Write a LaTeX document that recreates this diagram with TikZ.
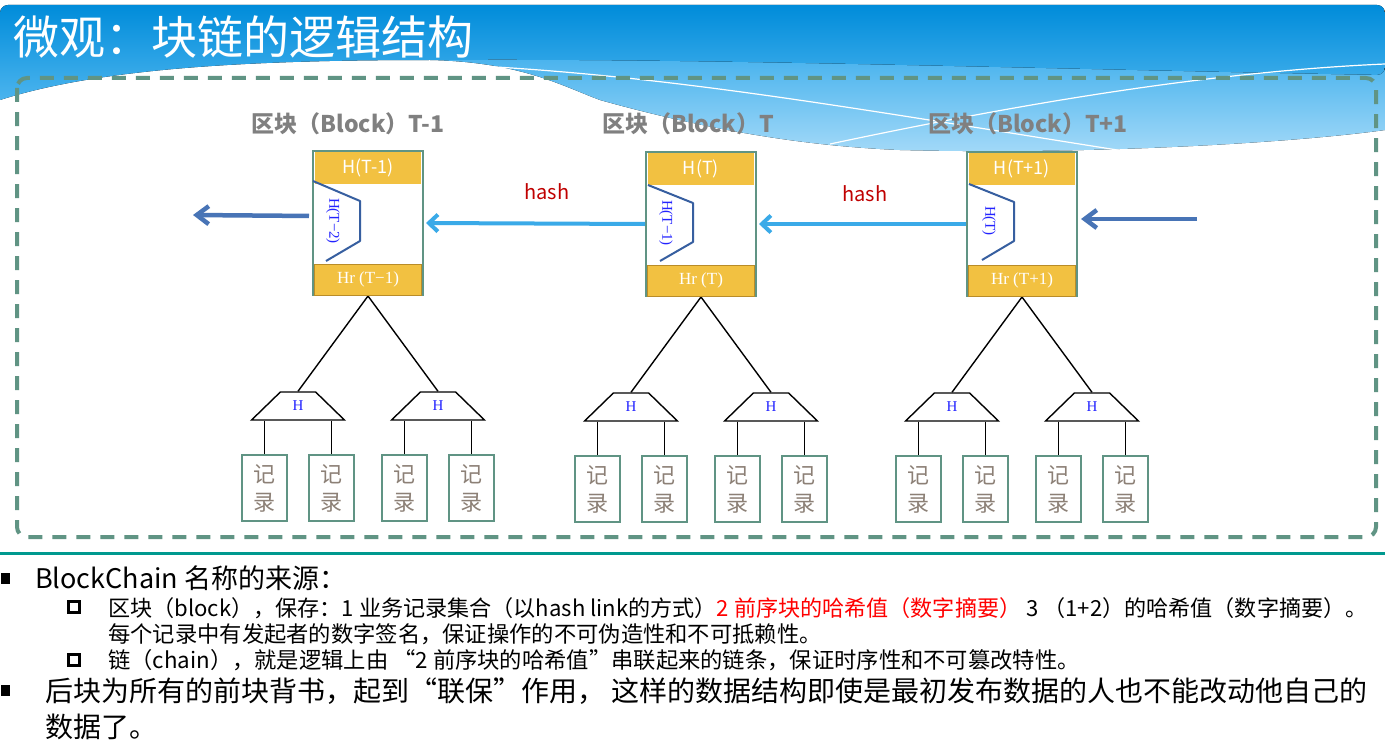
\documentclass[tikz,border=0pt]{standalone}
\usepackage{fontspec}
\setmainfont{Noto Sans CJK SC}
\newfontfamily\romfont{Liberation Serif}
\usetikzlibrary{arrows.meta,shapes.geometric,positioning}
\definecolor{frame}{RGB}{96,148,132}
\definecolor{barY}{RGB}{242,193,65}
\definecolor{barD}{RGB}{185,140,40}
\definecolor{muxB}{RGB}{55,95,160}
\definecolor{hblue}{RGB}{35,35,255}
\definecolor{arrDark}{RGB}{72,116,182}
\definecolor{arrLight}{RGB}{58,170,232}
\definecolor{hashred}{RGB}{192,0,0}
\definecolor{ttlgray}{RGB}{128,128,128}
\definecolor{recgray}{RGB}{140,128,118}
\definecolor{tealline}{RGB}{0,153,143}
\definecolor{skyTop}{RGB}{0,140,218}
\definecolor{skyBot}{RGB}{75,180,238}
\definecolor{skyPale}{RGB}{165,218,248}
\begin{document}
\begin{tikzpicture}[
	x=1pt, y=-1pt,
	grow=down,
	parent anchor=south,
	child anchor=north,
	level 1/.style={level distance=183pt, sibling distance=140pt},
	level 2/.style={level distance=82pt, sibling distance=67pt,
		edge from parent path={(\tikzchildnode.north |- \tikzparentnode.south) -- (\tikzchildnode.north)}},
	edge from parent/.style={draw=black, line width=1.4pt},
	blk/.style={draw=frame, line width=2pt, fill=white, minimum width=110pt, minimum height=144pt, inner sep=0pt},
	topbar/.style={fill=barY, minimum width=106pt, minimum height=32pt, inner sep=0pt, text=white, font=\fontsize{18}{18}\selectfont},
	botbar/.style={fill=barY, draw=barD, line width=1.2pt, minimum width=107pt, minimum height=31pt, inner sep=0pt, text=white, font=\romfont\fontsize{17}{17}\selectfont},
	mux/.style={draw=muxB, line width=2pt, line join=round},
	muxlbl/.style={rotate=-90, inner sep=0pt, text=hblue, font=\romfont\fontsize{15}{15}\selectfont},
	hnode/.style={trapezium, trapezium stretches=true, trapezium left angle=48, trapezium right angle=48, draw=black, line width=1.4pt, fill=white, minimum width=93pt, minimum height=28pt, inner sep=0pt, text=hblue, font=\romfont\fontsize{15}{15}\selectfont},
	rec/.style={draw=frame, line width=2.5pt, fill=white, minimum width=45pt, minimum height=66pt, inner sep=0pt, align=center, text=recgray, font=\fontsize{22}{28}\selectfont},
	blkttl/.style={inner sep=0pt, text=ttlgray, font=\bfseries\fontsize{23}{23}\selectfont},
	hashlbl/.style={inner sep=0pt, text=hashred, font=\fontsize{20}{20}\selectfont},
	lnkL/.style={draw=arrLight, line width=4pt, -{Straight Barb[length=9pt, width=17pt]}, shorten >=2pt},
	lnkD/.style={draw=arrDark, line width=4.5pt, -{Straight Barb[length=12pt, width=18pt]}},
	sqbul/.style={fill=black, minimum width=9pt, minimum height=11pt, inner sep=0pt},
	hollowbul/.style={draw=black, line width=2.8pt, fill=white, minimum size=11pt, inner sep=0pt},
	txt/.style={anchor=west, inner sep=0pt},
	]
\useasboundingbox (0,0) rectangle (1385,752);
\fill[white] (0,0) rectangle (1385,752);
\fill[top color=skyBot, bottom color=skyPale] (430,60) .. controls (520,62) and (560,85) .. (600,100) .. controls (700,128) and (800,146) .. (900,150) .. controls (1100,155) and (1300,142) .. (1385,130) -- (1385,60) -- cycle;
\fill[top color=skyTop, bottom color=skyBot] (0,100) [rounded corners=8pt] -- (0,5) -- (1385,5) -- (1385,75) [sharp corners] .. controls (1000,68) and (700,58) .. (430,60) .. controls (250,60) and (100,68) .. (0,100) -- cycle;
\draw[white, line width=1.2pt] (330,62) .. controls (600,62) and (800,100) .. (1130,152);
\draw[white, line width=1.2pt] (830,144) .. controls (1000,108) and (1200,72) .. (1385,64);
\node[txt, text=white, font=\fontsize{46}{46}\selectfont] (title) at (13,37) {微观：块链的逻辑结构};
\draw[frame, line width=4pt, dash pattern=on 14pt off 10pt, rounded corners=10pt] (17,78) rectangle (1376,537);
\node[blk] (bPrev) at (368,223) {}
	child { node[hnode] {H}
		child { node[rec] {记\\录} }
		child { node[rec] {记\\录} }
	}
	child { node[hnode] {H}
		child { node[rec] {记\\录} }
		child { node[rec] {记\\录} }
	};
\node[blk] (bCur) at (701,224) {}
	child { node[hnode] {H}
		child { node[rec] {记\\录} }
		child { node[rec] {记\\录} }
	}
	child { node[hnode] {H}
		child { node[rec] {记\\录} }
		child { node[rec] {记\\录} }
	};
\node[blk] (bNext) at (1022,224) {}
	child { node[hnode] {H}
		child { node[rec] {记\\录} }
		child { node[rec] {记\\录} }
	}
	child { node[hnode] {H}
		child { node[rec] {记\\录} }
		child { node[rec] {记\\录} }
	};
\node[topbar, below=2pt of bPrev.north] (hPrev) {H(T-1)};
\node[botbar, above=0pt of bPrev.south] (rPrev) {Hr (T−1)};
\draw[mux, shift={(bPrev.north west)}] (1,31) -- (48,51) -- (48,91) -- (14,111);
\node[muxlbl] (mPrev) at ([xshift=21pt, yshift=-71pt]bPrev.north west) {H(T−2)};
\node[topbar, below=2pt of bCur.north] (hCur) {H(T)};
\node[botbar, above=0pt of bCur.south] (rCur) {Hr (T)};
\draw[mux, shift={(bCur.north west)}] (3,34) -- (48,52) -- (48,91) -- (15,110);
\node[muxlbl] (mCur) at ([xshift=21pt, yshift=-72pt]bCur.north west) {H(T−1)};
\node[topbar, below=2pt of bNext.north] (hNext) {H(T+1)};
\node[botbar, above=0pt of bNext.south] (rNext) {Hr (T+1)};
\draw[mux, shift={(bNext.north west)}] (3,33) -- (48,51) -- (48,90) -- (16,109);
\node[muxlbl] (mNext) at ([xshift=23pt, yshift=-70pt]bNext.north west) {H(T)};
\node[blkttl] (tPrev) at (348,124) {区块（Block）T-1};
\node[blkttl] (tCur) at (688,124) {区块（Block）T};
\node[blkttl] (tNext) at (1028,124) {区块（Block）T+1};
\node[hashlbl] (hashA) at (547,192) {hash};
\node[hashlbl] (hashB) at (865,194) {hash};
\coordinate (outL) at (193,215);
\coordinate (inR) at (1197,219);
\draw[lnkD, shorten <=3pt] ([yshift=7pt]bPrev.west) -- (outL);
\draw[lnkL] (bCur.west) -- (bPrev.east);
\draw[lnkL] (bNext.west) -- (bCur.east);
\draw[lnkD, shorten >=3pt] (inR) -- ([yshift=5pt]bNext.east);
\draw[tealline, line width=3pt] (0,553) -- (1385,553);
\node[sqbul] (bulA) at (5,578) {};
\node[txt, font=\fontsize{27}{27}\selectfont] (lineA) at (35,578) {BlockChain 名称的来源：};
\node[hollowbul] (bulB) at (74,607) {};
\node[txt, font=\fontsize{22.1}{22.1}\selectfont] (lineB) at (108,608) {区块（block），保存：1 业务记录集合（以hash link的方式）\textcolor{red}{ 2 前序块的哈希值（数字摘要）} 3 （1+2）的哈希值（数字摘要）。};
\node[txt, font=\fontsize{22.3}{22.3}\selectfont] (lineC) at (108,634) {每个记录中有发起者的数字签名，保证操作的不可伪造性和不可抵赖性。};
\node[hollowbul] (bulC) at (74,660) {};
\node[txt, font=\fontsize{22.3}{22.3}\selectfont] (lineD) at (108,660) {链（chain），就是逻辑上由 “2 前序块的哈希值”串联起来的链条，保证时序性和不可篡改特性。};
\node[sqbul] (bulD) at (5,690) {};
\node[txt, font=\fontsize{28}{28}\selectfont] (lineE) at (45,691) {后块为所有的前块背书，起到“联保”作用， 这样的数据结构即使是最初发布数据的人也不能改动他自己的};
\node[txt, font=\fontsize{28}{28}\selectfont] (lineF) at (45,727) {数据了。};
\end{tikzpicture}
\end{document}
